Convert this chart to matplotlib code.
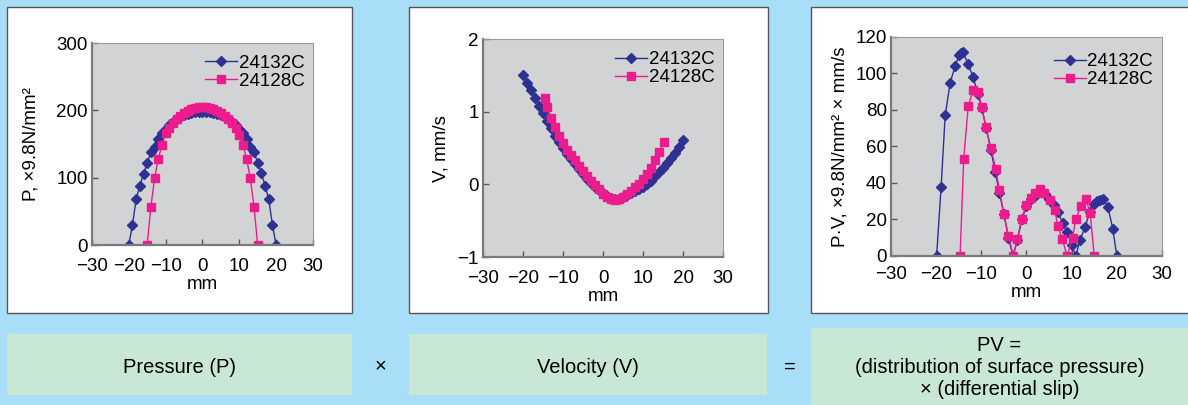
import matplotlib.pyplot as plt
from matplotlib.patches import Rectangle

# ---- data ----
# pressure P (x9.8 N/mm2) vs position (mm)
p_blue_x = list(range(-20, 21))
p_blue = [0, 30, 68, 88, 106, 122, 138, 146, 158, 166, 172, 178, 183, 187, 190, 193, 195,
          196, 197, 197, 197, 197, 197, 196, 195, 193, 190, 187, 183, 178, 172, 166, 158,
          146, 138, 122, 107, 88, 68, 30, 0]
p_pink_x = list(range(-15, 16))
p_pink = [0, 57, 99, 128, 148, 166, 174, 181, 187, 192, 196, 199, 202, 204, 205, 205,
          205, 204, 202, 199, 196, 192, 187, 181, 174, 164, 148, 128, 99, 57, 0]

# velocity V (mm/s)
v_blue_x = list(range(-20, 21))
v_blue = [1.50, 1.40, 1.30, 1.19, 1.08, 0.98, 0.87, 0.77, 0.67, 0.58, 0.50, 0.42, 0.35,
          0.28, 0.21, 0.14, 0.08, 0.02, -0.03, -0.08, -0.12, -0.16, -0.19, -0.20, -0.20,
          -0.18, -0.15, -0.12, -0.09, -0.06, -0.03, 0.01, 0.05, 0.11, 0.17, 0.23, 0.29,
          0.36, 0.43, 0.52, 0.61]
v_pink_x = [-14.6] + list(range(-14, 15)) + [15.3]
v_pink = [1.19, 1.06, 0.92, 0.79, 0.66, 0.57, 0.48, 0.40, 0.33, 0.25, 0.18, 0.11, 0.05,
          -0.01, -0.07, -0.13, -0.17, -0.20, -0.21, -0.20, -0.17, -0.13, -0.09, -0.04,
          0.01, 0.07, 0.14, 0.23, 0.33, 0.44, 0.59]

# PV
pv_blue_x = [-19.9, -18.9, -18.0, -16.9, -15.8, -14.9, -14.5, -14.1, -12.9, -11.8, -10.8,
             -9.9, -8.9, -7.9, -6.9, -6.0, -5.0, -4.0, -3.0, -2.0, -1.0, 0, 1, 2, 3, 4, 5,
             6, 7, 8, 9, 10, 10.9, 11.9, 13.0, 14.0, 15.0, 15.7, 16.3, 17.0, 18.0, 19.1, 20.0]
pv_blue = [0, 38, 77, 95, 104, 110, 111, 112, 105, 98, 89, 81, 70, 58, 46, 34.5, 23, 10,
           0, 9, 20, 27.5, 31, 33.5, 35, 34, 31, 28, 24, 18, 13, 6, 0, 9, 16, 24, 28.5, 30,
           30.5, 31, 27, 15, 0]
pv_pink_x = [-14.7, -13.9, -12.9, -11.8, -10.7, -9.9, -9.0, -7.9, -6.8, -6.0, -5.0, -4.0,
             -2.9, -2.0, -1.1, 0.0, 1.0, 1.9, 3.0, 3.9, 5.2, 6.3, 6.9, 7.9, 9.0, 10.2, 10.9,
             12.1, 13.2, 14.1, 15.0]
pv_pink = [0, 53, 82, 91, 90, 81.5, 70.7, 59.4, 47.5, 36, 23, 11, 0, 9.5, 20.5, 28, 31.5,
           34.6, 36.8, 34.6, 30.5, 25, 16.5, 9.5, 0, 10, 20.3, 27.4, 31, 23.5, 0]

labels = ['24132C', '24128C']
x_ticks = [-30, -20, -10, 0, 10, 20, 30]

BG = '#a9def9'
GREEN = '#c9e7d5'
FACE = '#d2d3d5'
BLUE = '#2e3192'
PINK = '#ec1c8c'

plt.rcParams['font.family'] = ['Liberation Sans', 'DejaVu Sans']
plt.rcParams['font.size'] = 13

fig = plt.figure(figsize=(11.88, 4.05), dpi=100, facecolor=BG)

# white panels behind the charts
for left, width in [(0.0059, 0.2904), (0.3443, 0.3022), (0.6827, 0.33)]:
    fig.patches.append(Rectangle((left, 0.227), width, 0.7556, transform=fig.transFigure,
                                 facecolor='white', edgecolor='#555555', lw=1.0, zorder=-10))

# green boxes at the bottom
for left, bottom, width, height in [(0.0059, 0.0247, 0.2904, 0.1506),
                                    (0.3443, 0.0247, 0.3013, 0.1506),
                                    (0.6827, -0.01, 0.33, 0.2)]:
    fig.patches.append(Rectangle((left, bottom), width, height, transform=fig.transFigure,
                                 facecolor=GREEN, edgecolor='none', zorder=-10))


def style(ax, yticks, ylabel, xpad=8, ylabpad=4, leg_y=0.97):
    ax.set_facecolor(FACE)
    ax.set_xlim(-30, 30)
    ax.set_xticks(x_ticks)
    ax.set_ylim(yticks[0], yticks[-1])
    ax.set_yticks(yticks)
    for s in ['top', 'right']:
        ax.spines[s].set_color('#9a9a9a')
        ax.spines[s].set_linewidth(0.8)
    for s in ['left', 'bottom']:
        ax.spines[s].set_color('#7a7a7a')
        ax.spines[s].set_linewidth(1.6)
    ax.tick_params(direction='in', length=4, width=1, color='#555555', labelsize=13.5)
    ax.tick_params(axis='x', pad=xpad)
    ax.tick_params(axis='y', pad=3)
    ax.set_xlabel('mm', fontsize=13.5, labelpad=1)
    ax.set_ylabel(ylabel, fontsize=13.5, labelpad=ylabpad)
    ax.legend(loc='upper right', bbox_to_anchor=(0.995, leg_y), frameon=False,
              fontsize=13.5, handlelength=1.7, handletextpad=0.1, labelspacing=0.05,
              borderaxespad=0.0)


def draw(ax, xb, yb, xp, yp):
    ax.plot(xb, yb, color=BLUE, lw=1.0, marker='D', ms=5, label=labels[0])
    ax.plot(xp, yp, color=PINK, lw=1.0, marker='s', ms=6, label=labels[1])


ax1 = fig.add_axes([0.0774, 0.395, 0.186, 0.4988])
draw(ax1, p_blue_x, p_blue, p_pink_x, p_pink)
style(ax1, [0, 100, 200, 300], 'P, \u00d79.8N/mm\u00b2', xpad=9, ylabpad=12, leg_y=0.98)

ax2 = fig.add_axes([0.4066, 0.3654, 0.202, 0.538])
draw(ax2, v_blue_x, v_blue, v_pink_x, v_pink)
style(ax2, [-1, 0, 1, 2], 'V, mm/s', xpad=9, ylabpad=6, leg_y=0.98)

ax3 = fig.add_axes([0.75, 0.368, 0.2281, 0.5407])
draw(ax3, pv_blue_x, pv_blue, pv_pink_x, pv_pink)
style(ax3, [0, 20, 40, 60, 80, 100, 120], 'P\u00b7V, \u00d79.8N/mm\u00b2 \u00d7 mm/s',
      xpad=7, ylabpad=5, leg_y=0.96)

# formula boxes
fs = 14.5
fig.text(0.1511, 0.0938, 'Pressure (P)', ha='center', va='center', fontsize=fs)
fig.text(0.3199, 0.0938, '\u00d7', ha='center', va='center', fontsize=fs)
fig.text(0.4949, 0.0938, 'Velocity (V)', ha='center', va='center', fontsize=fs)
fig.text(0.665, 0.0938, '=', ha='center', va='center', fontsize=fs)
fig.text(0.8413, 0.0938, 'PV =\n(distribution of surface pressure)\n\u00d7 (differential slip)',
         ha='center', va='center', fontsize=fs, linespacing=1.2)

fig.savefig('out.png', dpi=100, facecolor=BG)
